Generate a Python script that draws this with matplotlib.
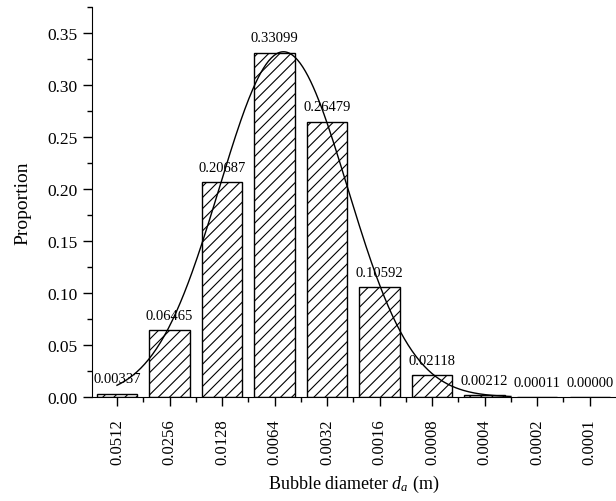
import numpy as np
import matplotlib.pyplot as plt
from matplotlib.ticker import MultipleLocator

plt.rcParams['font.family'] = ['Liberation Serif', 'DejaVu Serif']
plt.rcParams['mathtext.fontset'] = 'custom'
plt.rcParams['mathtext.rm'] = 'Liberation Serif'
plt.rcParams['mathtext.it'] = 'Liberation Serif:italic'
plt.rcParams['hatch.linewidth'] = 0.8

# data
diameters = ['0.0512', '0.0256', '0.0128', '0.0064', '0.0032',
             '0.0016', '0.0008', '0.0004', '0.0002', '0.0001']
proportion = [0.00337, 0.06465, 0.20687, 0.33099, 0.26479,
              0.10592, 0.02118, 0.00212, 0.00011, 0.00000]
labels = ['0.00337', '0.06465', '0.20687', '0.33099', '0.26479',
          '0.10592', '0.02118', '0.00212', '0.00011', '0.00000']

# gaussian fit: amplitude, centre, width
fit_amp = 0.332
fit_xc = 3.17
fit_sigma = 1.22

x = np.arange(len(diameters))

fig = plt.figure(figsize=(6.16, 5.02), dpi=100)
ax = fig.add_axes([0.149, 0.207, 0.851, 0.777])

ax.bar(x, proportion, width=0.77, color='white', edgecolor='black',
       linewidth=1.0, hatch='///', zorder=2)

for xi, v, lab in zip(x, proportion, labels):
    ax.text(xi, v + 0.008, lab, ha='center', va='bottom', fontsize=10.5, zorder=4)

xf = np.linspace(0, 7.5, 300)
yf = fit_amp * np.exp(-(xf - fit_xc) ** 2 / (2 * fit_sigma ** 2))
ax.plot(xf, yf, color='black', linewidth=1.0, zorder=3)

ax.set_xlim(-0.48, 9.5)
ax.set_ylim(0, 0.375)
ax.set_xticks(x)
ax.set_xticklabels(diameters, rotation=90)
ax.set_xticks(x[:-1] + 0.5, minor=True)
ax.yaxis.set_major_locator(MultipleLocator(0.05))
ax.yaxis.set_minor_locator(MultipleLocator(0.025))
ax.yaxis.set_major_formatter(plt.FormatStrFormatter('%.2f'))

ax.tick_params(which='major', direction='out', length=6.5, width=1, labelsize=12.5)
ax.tick_params(axis='x', which='major', pad=9, labelsize=12)
ax.tick_params(which='minor', direction='out', length=3.5, width=1)
ax.spines['top'].set_visible(False)
ax.spines['right'].set_visible(False)

ax.set_ylabel('Proportion', fontsize=14, labelpad=12)
ax.set_xlabel('Bubble diameter $d_a$ (m)', fontsize=13, labelpad=6)

fig.savefig('out.png', dpi=100)
